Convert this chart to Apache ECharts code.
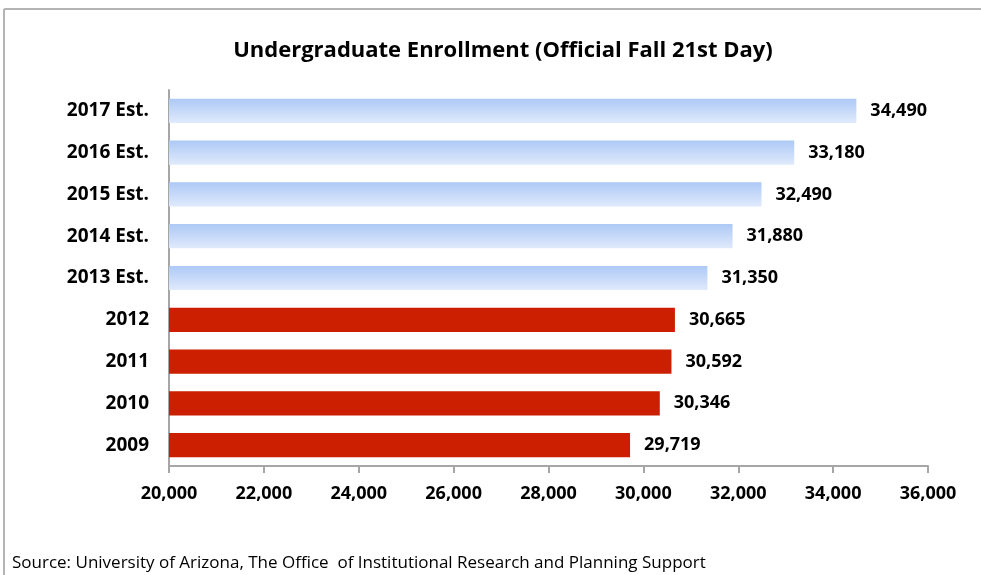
<!DOCTYPE html>
<html>
<head>
    <meta charset="utf-8" />
    <style>
        html, body { margin: 0; padding: 0; background: #fff; }
        #barChart { width: 981px; height: 575px; }
    </style>
    <script src="https://cdn.jsdelivr.net/npm/echarts@6/dist/echarts.min.js"></script>
</head>
<body>
    <div id="barChart"></div>
    <script type="text/javascript">
        // 数据
        var years = ['2009', '2010', '2011', '2012', '2013 Est.', '2014 Est.', '2015 Est.', '2016 Est.', '2017 Est.'];
        var enrollment = [29719, 30346, 30592, 30665, 31350, 31880, 32490, 33180, 34490];
        var titleText = 'Undergraduate Enrollment (Official Fall 21st Day)';
        var sourceText = 'Source: University of Arizona, The Office  of Institutional Research and Planning Support';

        var fontName = '"Open Sans", Lato, sans-serif';
        var redColor = '#cc1e00';
        var blueFill = new echarts.graphic.LinearGradient(0, 0, 0, 1, [
            { offset: 0, color: '#adc9f5' },
            { offset: 1, color: '#e0eafc' }
        ]);

        function fmt(v) {
            return v.toLocaleString('en-US');
        }

        var barData = [];
        for (var i = 0; i < years.length; i++) {
            var est = years[i].indexOf('Est.') >= 0;
            barData.push({
                value: enrollment[i],
                itemStyle: { color: est ? blueFill : redColor }
            });
        }

        var myBarChart = echarts.init(document.getElementById('barChart'));
        var barOptions = {
            animation: false,
            title: {
                text: titleText,
                left: 498,
                top: 35,
                textAlign: 'center',
                textStyle: { fontFamily: fontName, fontSize: 22, fontWeight: 'bold', color: '#000' }
            },
            grid: { left: 169, right: 53, top: 90, bottom: 109, containLabel: false },
            xAxis: {
                type: 'value',
                min: 20000,
                max: 36000,
                interval: 2000,
                splitLine: { show: false },
                axisLine: { show: true, lineStyle: { color: '#a6a6a6', width: 2 } },
                axisTick: { show: true, length: 7, lineStyle: { color: '#a6a6a6', width: 2 } },
                axisLabel: {
                    margin: 19,
                    fontFamily: fontName, fontSize: 18, fontWeight: 'bold', color: '#000',
                    formatter: function (v) { return fmt(v); }
                }
            },
            yAxis: {
                type: 'category',
                data: years,
                axisLine: { show: true, lineStyle: { color: '#a6a6a6', width: 2 } },
                axisTick: { show: false },
                axisLabel: {
                    margin: 20,
                    fontFamily: fontName, fontSize: 19, fontWeight: 'bold', color: '#000'
                }
            },
            series: [{
                type: 'bar',
                data: barData,
                barCategoryGap: '42%',
                label: {
                    show: true,
                    position: 'right',
                    distance: 14,
                    fontFamily: fontName, fontSize: 18, fontWeight: 'bold', color: '#000',
                    formatter: function (p) { return fmt(p.value); }
                }
            }],
            graphic: [
                { type: 'line', shape: { x1: 4, y1: 9, x2: 981, y2: 9 }, style: { stroke: '#b4b4b4', lineWidth: 2 } },
                { type: 'line', shape: { x1: 4, y1: 9, x2: 4, y2: 575 }, style: { stroke: '#b4b4b4', lineWidth: 2 } },
                {
                    type: 'text', left: 12, top: 555,
                    style: { text: sourceText, font: '17px ' + fontName, fill: '#000' }
                }
            ]
        };
        myBarChart.setOption(barOptions);
    </script>
</body>
</html>
